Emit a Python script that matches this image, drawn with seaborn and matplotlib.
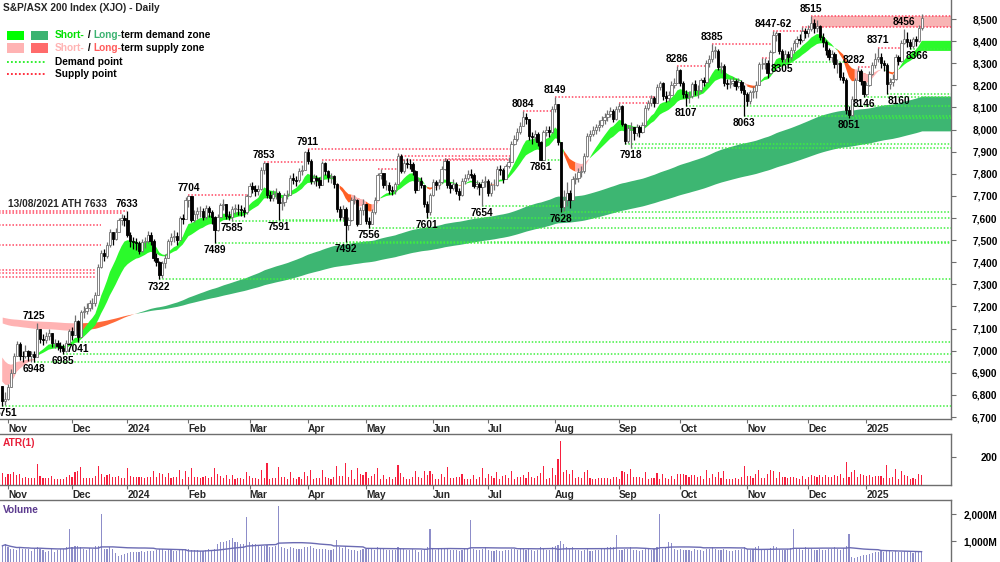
import numpy as np
import pandas as pd
import matplotlib
matplotlib.use('Agg')
import matplotlib.pyplot as plt
from matplotlib.patches import Rectangle
import seaborn as sns

sns.set_theme(style='white')
plt.rcParams['font.family'] = ['Liberation Sans', 'DejaVu Sans']
plt.rcParams['font.weight'] = 'bold'

# ---------------- data ----------------
first_open = 6838

closes = [
    6772, 6781,
    6837, 6899, 6978, 7030, 6977, 6976, 6997, 6976, 6985, 6972,
    7099, 7054, 7049, 7068, 7078, 7033, 7034, 7022, 7011, 7000,
    7036, 7087,
    7073, 7132, 7060, 7174, 7178, 7194, 7214, 7215, 7252, 7377,
    7442, 7427, 7476, 7536, 7505, 7538, 7589, 7600, 7590,
    7525, 7495, 7490, 7489, 7451, 7490, 7496, 7524, 7498, 7418,
    7401, 7341, 7395, 7421, 7494, 7515, 7519, 7502, 7600, 7594, 7681,
    7699, 7592, 7616, 7630, 7632, 7605, 7645, 7626, 7603, 7547,
    7606, 7658, 7662, 7608, 7605, 7643, 7643, 7640, 7636, 7627, 7699,
    7745, 7730, 7723, 7732, 7819, 7847, 7702, 7692, 7710, 7715,
    7670, 7672, 7703, 7705, 7782, 7771, 7770, 7811, 7819, 7897,
    7860, 7769, 7782, 7774, 7750, 7848, 7813, 7787, 7788, 7752,
    7642, 7606, 7642, 7567, 7589, 7683, 7683, 7575, 7637, 7664,
    7588, 7573, 7629, 7683, 7793, 7804, 7749, 7749, 7726, 7725,
    7752, 7882, 7814, 7848, 7846, 7845, 7811, 7727, 7766, 7750,
    7665, 7628, 7702,
    7761, 7748, 7761, 7822, 7860, 7748, 7734, 7754, 7724, 7702,
    7766, 7783, 7799, 7796, 7746, 7752, 7740, 7762, 7767,
    7714, 7748, 7750, 7822, 7817, 7778, 7833, 7852, 7935, 7959,
    7990, 8017, 8057, 8049, 7971, 7965, 7979, 7945, 7863, 7989,
    7999, 7989, 8092,
    8114, 7943, 7649, 7680, 7713, 7683, 7777, 7782, 7810, 7811,
    7882, 7971, 7980, 8000, 8010, 8019, 8045, 8055, 8071, 8085,
    8047, 8092,
    8108, 8026, 7950, 8008, 8013, 7985, 8011, 7988, 8020, 8099,
    8121, 8141, 8120, 8193, 8209, 8152, 8141, 8156, 8203, 8212, 8270,
    8209, 8160, 8149, 8150, 8205, 8178, 8180, 8223, 8215, 8302,
    8318, 8356, 8357, 8283, 8286, 8211, 8206, 8211, 8218, 8199,
    8214, 8180, 8160,
    8130, 8168, 8175, 8200, 8295, 8295, 8300, 8255, 8350, 8428,
    8435, 8355, 8320, 8340, 8330, 8360, 8390, 8410, 8405, 8445, 8436,
    8455, 8480, 8460, 8470, 8420, 8395, 8360, 8330, 8340, 8296,
    8300, 8240, 8226, 8090, 8067, 8137, 8222, 8265, 8220, 8159,
    8201, 8250, 8290, 8320, 8330, 8300, 8294, 8208, 8215, 8230,
    8330, 8310, 8390, 8410, 8395, 8380, 8408, 8400, 8460, 8505,
]

highs = [
    6838, 6815,
    6850, 6915, 6990, 7045, 7040, 7000, 7025, 7005, 7000, 7000,
    7125, 7100, 7075, 7085, 7100, 7080, 7055, 7050, 7040, 7030,
    7050, 7100,
    7105, 7160, 7140, 7185, 7200, 7215, 7230, 7240, 7265, 7390,
    7455, 7460, 7490, 7550, 7535, 7555, 7600, 7620, 7615,
    7633, 7535, 7515, 7510, 7495, 7505, 7515, 7540, 7535, 7505,
    7440, 7405, 7405, 7435, 7505, 7530, 7545, 7535, 7610, 7620, 7695,
    7704, 7700, 7635, 7650, 7655, 7645, 7660, 7655, 7635, 7610,
    7620, 7670, 7685, 7665, 7630, 7655, 7665, 7665, 7660, 7650, 7710,
    7760, 7765, 7750, 7750, 7830, 7853, 7850, 7720, 7725, 7735,
    7720, 7695, 7715, 7725, 7795, 7805, 7790, 7825, 7840, 7905,
    7911, 7865, 7800, 7795, 7785, 7860, 7855, 7815, 7805, 7795,
    7760, 7655, 7660, 7650, 7605, 7695, 7705, 7685, 7650, 7685,
    7665, 7605, 7640, 7695, 7805, 7820, 7805, 7770, 7765, 7745,
    7765, 7895, 7890, 7865, 7870, 7865, 7855, 7815, 7780, 7785,
    7750, 7675, 7715,
    7775, 7770, 7775, 7835, 7870, 7865, 7765, 7775, 7765, 7735,
    7780, 7800, 7815, 7820, 7805, 7770, 7765, 7775, 7790,
    7775, 7765, 7775, 7835, 7840, 7825, 7845, 7875, 7950, 7975,
    8005, 8035, 8084, 8075, 8050, 7990, 8000, 7990, 7950, 8000,
    8015, 8015, 8105,
    8149, 8115, 7945, 7725, 7765, 7725, 7790, 7805, 7825, 7835,
    7895, 7985, 8000, 8015, 8025, 8045, 8060, 8075, 8090, 8100,
    8095, 8105,
    8120, 8112, 8030, 8020, 8035, 8005, 8025, 8020, 8035, 8110,
    8135, 8155, 8150, 8205, 8220, 8215, 8175, 8175, 8220, 8235, 8286,
    8275, 8220, 8180, 8175, 8215, 8225, 8200, 8235, 8240, 8315,
    8335, 8385, 8380, 8365, 8305, 8295, 8230, 8235, 8240, 8230,
    8235, 8225, 8200,
    8170, 8180, 8195, 8220, 8305, 8325, 8325, 8315, 8360, 8447,
    8447, 8435, 8365, 8360, 8355, 8375, 8405, 8425, 8430, 8462, 8460,
    8475, 8515, 8500, 8495, 8475, 8435, 8405, 8370, 8360, 8350,
    8320, 8305, 8260, 8235, 8105, 8150, 8235, 8282, 8275, 8220,
    8215, 8265, 8305, 8345, 8371, 8345, 8315, 8300, 8235, 8250,
    8340, 8335, 8405, 8456, 8440, 8410, 8420, 8425, 8475, 8522,
]

lows = [
    6751, 6755,
    6775, 6835, 6900, 6975, 6960, 6950, 6965, 6955, 6950, 6948,
    6975, 7035, 7025, 7035, 7050, 7015, 7010, 7005, 6995, 6985,
    6995, 7030,
    7050, 7070, 7041, 7060, 7150, 7165, 7180, 7190, 7200, 7255,
    7375, 7405, 7420, 7470, 7480, 7500, 7535, 7570, 7565,
    7515, 7470, 7460, 7455, 7435, 7445, 7465, 7485, 7480, 7405,
    7385, 7322, 7330, 7375, 7420, 7480, 7490, 7480, 7500, 7575, 7595,
    7650, 7580, 7580, 7595, 7605, 7590, 7595, 7605, 7575, 7489,
    7540, 7605, 7635, 7595, 7590, 7585, 7620, 7615, 7610, 7605, 7620,
    7695, 7715, 7700, 7705, 7725, 7800, 7690, 7675, 7675, 7685,
    7591, 7635, 7655, 7685, 7705, 7755, 7745, 7765, 7795, 7815,
    7845, 7755, 7755, 7745, 7735, 7755, 7795, 7765, 7760, 7735,
    7625, 7590, 7595, 7492, 7545, 7585, 7665, 7565, 7575, 7615,
    7575, 7556, 7575, 7620, 7685, 7775, 7735, 7725, 7710, 7705,
    7710, 7755, 7805, 7805, 7825, 7820, 7795, 7715, 7725, 7735,
    7650, 7601, 7615,
    7700, 7725, 7730, 7760, 7815, 7735, 7715, 7725, 7710, 7680,
    7700, 7755, 7770, 7780, 7735, 7730, 7705, 7654, 7740,
    7700, 7700, 7725, 7745, 7795, 7760, 7775, 7825, 7855, 7930,
    7950, 7980, 8015, 8025, 7955, 7935, 7950, 7925, 7861, 7865,
    7970, 7965, 7985,
    8080, 7930, 7628, 7630, 7655, 7645, 7685, 7755, 7765, 7785,
    7805, 7875, 7950, 7970, 7980, 7995, 8010, 8025, 8040, 8055,
    8035, 8045,
    8080, 8015, 7935, 7940, 7918, 7955, 7970, 7965, 7985, 8015,
    8090, 8105, 8100, 8120, 8180, 8135, 8125, 8130, 8155, 8190, 8210,
    8195, 8145, 8107, 8120, 8145, 8155, 8145, 8170, 8195, 8210,
    8285, 8305, 8325, 8270, 8255, 8195, 8185, 8190, 8195, 8180,
    8190, 8165, 8063,
    8105, 8115, 8145, 8145, 8205, 8275, 8275, 8235, 8250, 8345,
    8400, 8340, 8305, 8305, 8305, 8315, 8345, 8375, 8385, 8395, 8415,
    8420, 8445, 8435, 8440, 8405, 8375, 8335, 8315, 8305, 8280,
    8255, 8225, 8210, 8070, 8051, 8060, 8130, 8225, 8200, 8146,
    8150, 8195, 8245, 8280, 8305, 8280, 8265, 8160, 8185, 8195,
    8225, 8290, 8305, 8385, 8375, 8366, 8370, 8380, 8395, 8450,
]

volumes_m = [
    820, 900,
    760, 720, 700, 650, 780, 700, 690, 720, 640, 700, 760, 720, 680, 610, 640, 700, 590, 650, 720, 690, 760, 1440,
    780, 810, 800, 760, 720, 650, 740, 690, 820, 800, 2000, 700, 720, 760, 690, 560, 450, 480, 520,
    560, 600, 580, 590, 600, 620, 610, 630, 620, 640, 660, 700, 720, 640, 650, 660, 640, 630, 680, 660, 700,
    720, 680, 650, 660, 640, 620, 660, 700, 680, 720, 900, 950, 980, 1000, 1050, 1100, 980, 950, 900, 880, 1890,
    950, 900, 880, 860, 820, 800, 850, 780, 760, 800, 2300, 760, 740, 720, 780, 750, 700, 690, 720, 760,
    780, 800, 740, 700, 690, 720, 700, 680, 650, 700, 1040, 760, 740, 800, 700, 680, 650, 620, 660, 700,
    700, 720, 690, 680, 760, 740, 700, 680, 660, 650, 680, 760, 720, 700, 680, 660, 700, 650, 600, 680, 720, 760, 1440,
    700, 680, 690, 720, 700, 740, 680, 660, 650, 640, 660, 700, 720, 1780, 700, 650, 660, 700, 760,
    650, 640, 620, 680, 640, 620, 650, 660, 720, 700, 680, 700, 720, 680, 700, 650, 640, 680, 760, 700, 660, 650, 780,
    820, 850, 1000, 900, 780, 720, 760, 680, 650, 640, 660, 700, 640, 620, 650, 660, 700, 720, 760, 780, 760, 1220,
    680, 660, 720, 700, 760, 680, 650, 640, 660, 700, 720, 680, 700, 760, 2000, 700, 780, 960, 920, 700, 680,
    700, 680, 660, 650, 640, 700, 660, 650, 640, 700, 720, 760, 700, 680, 650, 700, 660, 640, 620, 650, 660, 700, 760,
    720, 680, 700, 760, 800, 720, 680, 700, 740, 800, 760, 700, 680, 660, 700, 740, 1440, 720, 700, 680, 760,
    720, 700, 680, 660, 700, 680, 660, 700, 720, 760, 700, 680, 740, 800, 1260, 420, 380, 400, 450, 480,
    480, 520, 560, 580, 600, 620, 600, 640, 620, 600, 620, 600, 580, 620, 600, 580, 560, 600, 620, 640,
]

asx_holidays = ['2023-12-25', '2023-12-26', '2024-01-01', '2024-01-26', '2024-03-29',
                '2024-04-01', '2024-04-25', '2024-06-10', '2024-12-25', '2024-12-26',
                '2025-01-01', '2025-01-27']

# zone seeds (band edges at the left edge of the chart)
short_seed = [6880, 6990]
long_seed = [7130, 7155]

# swing point labels
pivot_text = ['6751', '6948', '7125', '6985', '7041', '7633', '7322', '7704', '7489', '7585',
              '7853', '7591', '7911', '7492', '7556', '7601', '7654', '8084', '7861', '8149',
              '7628', '7918', '8286', '8107', '8385', '8063', '8447-62', '8305', '8515', '8051',
              '8282', '8146', '8371', '8160', '8456', '8366']
pivot_idx = [0, 11, 12, 21, 26, 43, 54, 64, 73, 79,
             90, 95, 105, 118, 126, 146, 165, 179, 185, 190,
             192, 216, 232, 235, 244, 255, 265, 268, 278, 291,
             294, 296, 301, 304, 310, 312]
pivot_side = ['lo', 'lo', 'hi', 'lo', 'lo', 'hi', 'lo', 'hi', 'lo', 'lo',
              'hi', 'lo', 'hi', 'lo', 'lo', 'lo', 'lo', 'hi', 'lo', 'hi',
              'lo', 'lo', 'hi', 'lo', 'hi', 'lo', 'hi', 'lo', 'hi', 'lo',
              'hi', 'lo', 'hi', 'lo', 'hi', 'lo']

# supply / demand point lines: level, first day, last day
supply_level = [7633, 7622, 7570, 7480, 7365, 7350, 7335, 7704, 7853, 7911, 7862, 7882,
                7865, 7820, 8084, 8149, 8120, 8286, 8385, 8325, 8447, 8462, 8515, 8282, 8371]
supply_start = [-1, -1, -1, -1, -1, -1, -1, 64, 90, 105, 110, 136,
                152, 129, 179, 190, 212, 232, 244, 261, 265, 275, 278, 294, 301]
supply_end = [43, 41, 34, 34, 32, 32, 32, 85, 104, 175, 175, 175,
              175, 136, 189, 225, 225, 242, 265, 264, 277, 330, 330, 299, 309]

demand_level = [6751, 6948, 6985, 7041, 7322, 7489, 7492, 7556, 7585, 7591, 7601, 7628,
                7654, 7861, 7918, 7935, 8107, 8063, 8305, 8051, 8146, 8160, 8366]
demand_start = [0, 11, 21, 26, 54, 73, 118, 126, 79, 95, 146, 192,
                165, 185, 216, 214, 235, 255, 268, 291, 296, 304, 312]
demand_end = [330, 330, 330, 330, 330, 330, 330, 330, 118, 118, 330, 330,
              192, 192, 330, 330, 330, 330, 290, 330, 330, 330, 330]

# ---------------- preparation ----------------
dates = pd.bdate_range('2023-10-30', '2025-01-30')
dates = dates[~dates.isin(pd.to_datetime(asx_holidays))]

df = pd.DataFrame({'date': dates, 'close': closes, 'high': highs,
                   'low': lows, 'volume': volumes_m})
df['open'] = df['close'].shift(1).fillna(first_open)
df['high'] = df[['high', 'open', 'close']].max(axis=1)
df['low'] = df[['low', 'open', 'close']].min(axis=1)
prev_close = df['close'].shift(1).fillna(first_open)
df['atr1'] = np.maximum(df['high'], prev_close) - np.minimum(df['low'], prev_close)
df['vol_ma'] = df['volume'].rolling(30, min_periods=1).mean()
x = np.arange(len(df))


def ema(values, span, seed):
    a = 2.0 / (span + 1)
    out, e = [], seed
    for v in values:
        e = e + a * (v - e)
        out.append(e)
    return np.array(out)


X_LEFT, X_RIGHT = -0.76, 326.05
xb = np.append(x, X_RIGHT + 1)


def ext(a):
    return np.append(a, a[-1])


s_fast = ext(ema(df['close'], 10, short_seed[0]))
s_slow = ext(ema(df['close'], 20, short_seed[1]))
l_fast = ext(ema(df['close'], 150, long_seed[0]))
l_slow = ext(ema(df['close'], 250, long_seed[1]))
cl = ext(df['close'].values)

month_idx, month_lab = [], []
for i in range(1, len(dates)):
    if dates[i].month != dates[i - 1].month:
        month_idx.append(i)
        month_lab.append(str(dates[i].year) if dates[i].month == 1 else dates[i].strftime('%b'))

# ---------------- figure ----------------
W, H = 1000, 562
fig = plt.figure(figsize=(W / 100, H / 100), dpi=100)


def px_axes(top, bottom, right=951):
    return fig.add_axes([0, 1 - bottom / H, right / W, (bottom - top) / H])


ax = px_axes(0, 419)
ax_atr = px_axes(434, 485)
ax_vol = px_axes(500, 562)

SPINE = '#6e6e6e'
FS = 7.3


def band(axis, lo, hi, mask, color, z):
    m = mask.copy()
    m[1:] = m[1:] | mask[:-1]
    axis.fill_between(xb, lo, hi, where=m, color=color, lw=0, zorder=z)


# long-term zone
l_dem = l_fast >= l_slow
l_below = cl < np.minimum(l_fast, l_slow)
band(ax, l_fast, l_slow, l_dem, '#3db672', 1)
band(ax, l_fast, l_slow, ~l_dem & l_below, '#ffb3b3', 1)
band(ax, l_fast, l_slow, ~l_dem & ~l_below, '#ff6a3a', 1)

# short-term zone
s_dem = s_fast >= s_slow
gap = np.abs(s_fast - s_slow)
widening = np.r_[False, np.diff(gap) > 0]
band(ax, s_fast, s_slow, s_dem, '#2bfa2b', 2)
band(ax, s_fast, s_slow, ~s_dem & widening, '#ff5f24', 2)
band(ax, s_fast, s_slow, ~s_dem & ~widening, '#ffb3b3', 2)

# supply box at the top right
ax.fill_between([278, X_RIGHT + 1], 8462, 8515, color='#f8b4b4', lw=0, zorder=1.5)

DOT = (0, (1, 1.2))
for lv, s, e in zip(supply_level, supply_start, supply_end):
    ax.plot([s, e], [lv, lv], ls=DOT, lw=1.1, color='#ff4560', zorder=3)
for lv, s, e in zip(demand_level, demand_start, demand_end):
    ax.plot([s, e], [lv, lv], ls=DOT, lw=1.1, color='#3ef03e', zorder=3)

# candles
up = (df['close'] >= df['open']).values
wick_col = np.where(up, '#707070', '#000000')
ax.vlines(x, df['low'], df['high'], colors=wick_col, lw=0.9, zorder=4)
body = (df['close'] - df['open']).values
body = np.where(np.abs(body) < 2, 2 * np.sign(body + 0.1), body)
ax.bar(x[up], body[up], bottom=df['open'].values[up], width=0.8, color='white',
       edgecolor='#707070', lw=0.6, zorder=5)
ax.bar(x[~up], body[~up], bottom=df['open'].values[~up], width=0.8, color='black',
       edgecolor='black', lw=0.6, zorder=5)

# swing labels
label_shift = {'8160': 9, '8366': 5, '8282': -3, '7125': -2, '6751': 3}
for t, i, side in zip(pivot_text, pivot_idx, pivot_side):
    if side == 'hi':
        y, dy, va = df['high'][i], 1.5, 'bottom'
    else:
        y, dy, va = df['low'][i], -1.5, 'top'
    ax.annotate(t, (i, y), xytext=(label_shift.get(t, 0), dy), textcoords='offset points',
                ha='center', va=va, fontsize=FS, fontweight='bold', color='black',
                zorder=6, annotation_clip=False)
ax.text(2.0, 7642, '13/08/2021 ATH 7633', fontsize=FS, fontweight='bold',
        ha='left', va='bottom', zorder=6)

ax.set_xlim(X_LEFT, X_RIGHT)
ax.set_ylim(6691, 8586)
ax.yaxis.tick_right()
yt = np.arange(6700, 8501, 100)
ax.set_yticks(yt)
ax.set_yticklabels([f'{v:,}' for v in yt])

# ATR panel
ax_atr.bar(x, df['atr1'], width=0.38, color='#f7203f', lw=0)
ax_atr.set_xlim(X_LEFT, X_RIGHT)
ax_atr.set_ylim(0, 364)
ax_atr.yaxis.tick_right()
ax_atr.set_yticks([200])
ax_atr.set_yticklabels(['200'])

# volume panel
ax_vol.bar(x, df['volume'], width=0.38, color='#8d8dc9', lw=0)
sns.lineplot(x=x, y=df['vol_ma'].values, ax=ax_vol, color='#6b6bb3', lw=1.0)
ax_vol.set_xlim(X_LEFT, X_RIGHT)
ax_vol.set_ylim(222, 2519)
ax_vol.yaxis.tick_right()
ax_vol.set_yticks([1000, 2000])
ax_vol.set_yticklabels(['1,000M', '2,000M'])

for a in (ax, ax_atr, ax_vol):
    a.set_facecolor('white')
    a.set_ylabel('')
    a.set_xlabel('')
    for sp in a.spines.values():
        sp.set_color(SPINE)
        sp.set_linewidth(1.0)
    a.spines['left'].set_visible(False)
    a.tick_params(axis='y', which='both', right=True, left=False, length=3.5, width=0.8,
                  color=SPINE, pad=30, labelsize=FS, labelcolor='black')
    for lab in a.get_yticklabels():
        lab.set_horizontalalignment('right')
        lab.set_fontweight('bold')

ax.spines['top'].set_visible(False)
ax_vol.spines['bottom'].set_visible(False)

for a in (ax, ax_atr):
    a.set_xticks(month_idx)
    a.set_xticklabels(month_lab, ha='left', fontsize=FS, fontweight='bold')
    a.tick_params(axis='x', bottom=True, length=3, width=0.8, color=SPINE, pad=0.5,
                  direction='out')
ax_vol.set_xticks([])

# panel titles
fig.text(3 / W, 1 - 443 / H, 'ATR(1)', color='#e8203a', fontsize=FS, fontweight='bold', va='center')
fig.text(3 / W, 1 - 510 / H, 'Volume', color='#5b3a8e', fontsize=FS, fontweight='bold', va='center')

# title and legend
fig.text(3 / W, 1 - 8 / H, 'S&P/ASX 200 Index (XJO) - Daily', fontsize=FS, fontweight='bold', va='center')

renderer = fig.canvas.get_renderer()


def text_width(s):
    t = fig.text(0, 0, s + '|', fontsize=FS, fontweight='bold')
    w1 = t.get_window_extent(renderer=renderer).width
    t.set_text('|')
    w2 = t.get_window_extent(renderer=renderer).width
    t.remove()
    return w1 - w2


def rich(x_px, y_px, parts):
    for s, c in parts:
        fig.text(x_px / W, 1 - y_px / H, s, color=c, fontsize=FS, fontweight='bold', va='center')
        x_px += text_width(s)


def box(x0, y0, w, h, c):
    fig.add_artist(Rectangle((x0 / W, 1 - (y0 + h) / H), w / W, h / H, color=c, lw=0,
                             transform=fig.transFigure))


box(7, 31, 17, 9, '#00ff00')
box(31, 31, 17, 9, '#3cb371')
box(7, 43, 17, 10, '#ffb3b3')
box(31, 43, 17, 10, '#ff6b6b')
fig.add_artist(plt.Line2D([7 / W, 45 / W], [1 - 62 / H] * 2, ls=DOT, lw=1.3, color='#22ee22',
                          transform=fig.transFigure))
fig.add_artist(plt.Line2D([7 / W, 45 / W], [1 - 74 / H] * 2, ls=DOT, lw=1.3, color='#ff2030',
                          transform=fig.transFigure))
rich(55, 35, [('Short-', '#00e000'), (' / ', 'black'), ('Long-', '#3cb371'),
              ('term demand zone', 'black')])
rich(55, 48, [('Short-', '#ffb3b3'), (' / ', 'black'), ('Long-', '#ff5c5c'),
              ('term supply zone', 'black')])
rich(55, 62, [('Demand point', 'black')])
rich(55, 74, [('Supply point', 'black')])

fig.savefig('out.png', dpi=100, facecolor='white')
